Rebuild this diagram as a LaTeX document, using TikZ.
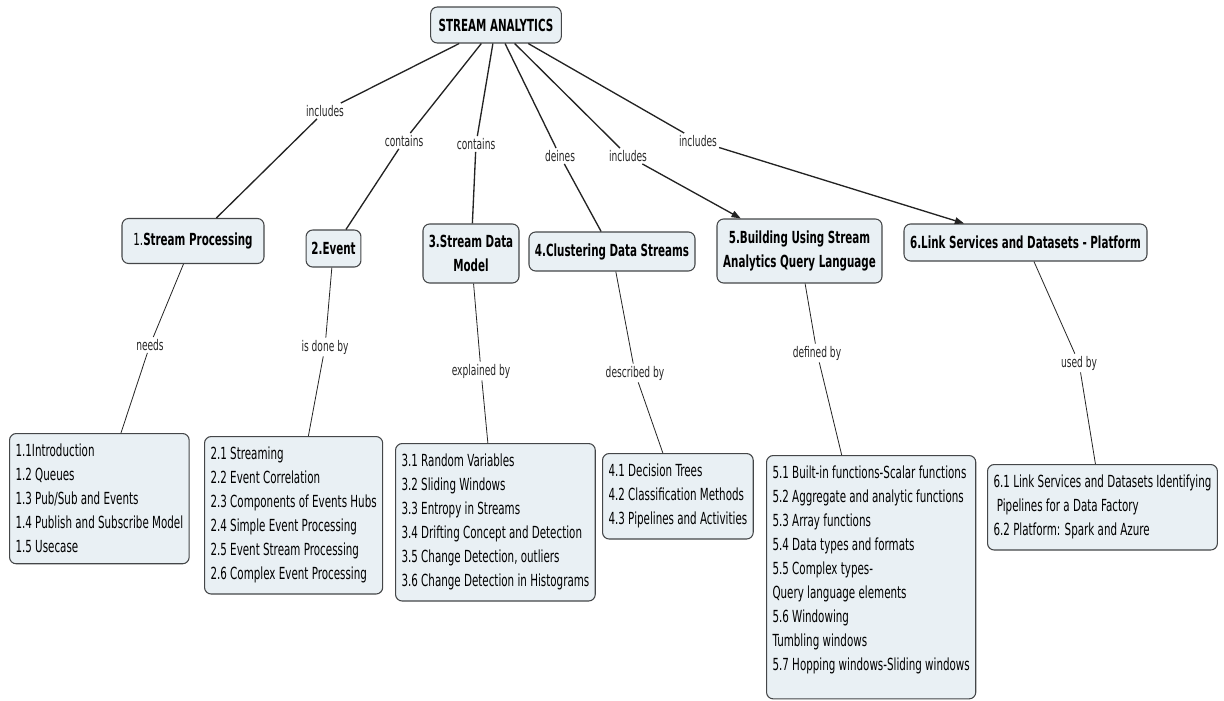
\documentclass[tikz,border=0pt]{standalone}
\usepackage{fontspec}
\setmainfont{DejaVu Sans}[FakeStretch=0.62]
\usepackage{tikz}
\usetikzlibrary{arrows.meta,positioning}
\definecolor{conceptfill}{RGB}{233,240,244}
\definecolor{conceptline}{RGB}{68,70,72}
\definecolor{linkline}{RGB}{35,35,35}

\begin{document}
\begin{tikzpicture}[x=0.75pt, y=-0.75pt,
    concept/.style={rectangle, draw=conceptline, fill=conceptfill, line width=0.8pt, rounded corners=5pt, align=center, inner xsep=4pt, inner ysep=3pt, font=\fontsize{12.5pt}{18pt}\selectfont\bfseries},
    topic/.style={rectangle, draw=conceptline, fill=conceptfill, line width=0.8pt, rounded corners=5pt, align=left, anchor=north west, inner xsep=4.5pt, inner ysep=8pt, font=\fontsize{12.5pt}{18pt}\selectfont},
    phrase/.style={inner sep=1.5pt, font=\fontsize{11pt}{13pt}\selectfont, text=black!85},
    link/.style={draw=linkline, line width=1pt},
    sublink/.style={draw=linkline, line width=0.6pt},
    tip/.style={-{Triangle[length=7pt, width=5pt]}}
]
    \useasboundingbox (0,0) rectangle (1224,700);

    % root and main concepts
    \node[concept, minimum width=98pt, minimum height=27pt] (root) at (496,25) {STREAM ANALYTICS};

    \node[concept, minimum width=106.5pt, minimum height=33.75pt] (sp) at (193,241) {{\mdseries 1.}Stream Processing};
    \node[concept, minimum height=27.75pt] (ev) at (333.5,248.5) {2.Event};
    \node[concept, minimum width=72pt, minimum height=44.25pt] (sdm) at (471,253.5) {3.Stream Data\\Model};
    \node[concept, minimum width=124.5pt, minimum height=29.25pt] (cds) at (612,251.5) {4.Clustering Data Streams};
    \node[concept, minimum width=123.75pt, minimum height=48pt] (bsa) at (799.5,251) {5.Building Using Stream\\Analytics Query Language};
    \node[concept, minimum width=182.25pt, minimum height=27.75pt] (lsd) at (1025.5,242.5) {6.Link Services and Datasets - Platform};

    % linking phrases
    \node[phrase] (inc1) at (325,111) {includes};
    \node[phrase] (con2) at (404,141) {contains};
    \node[phrase] (con3) at (476,144) {contains};
    \node[phrase] (def4) at (560,156) {deines};
    \node[phrase] (inc5) at (628,156) {includes};
    \node[phrase] (inc6) at (698,141) {includes};

    \node[phrase] (needs) at (150,345) {needs};
    \node[phrase] (done) at (325,347) {is done by};
    \node[phrase] (expl) at (481,371) {explained by};
    \node[phrase] (desc) at (635,373) {described by};
    \node[phrase] (defn) at (817,353) {defined by};
    \node[phrase] (used) at (1079,363) {used by};

    % topic lists
    \node[topic] (t1) at (9,433) {1.1Introduction\\1.2 Queues\\1.3 Pub/Sub and Events\\1.4 Publish and Subscribe Model\\1.5 Usecase};
    \node[topic] (t2) at (204,436) {2.1 Streaming\\2.2 Event Correlation\\2.3 Components of Events Hubs\\2.4 Simple Event Processing\\2.5 Event Stream Processing\\2.6 Complex Event Processing};
    \node[topic] (t3) at (395,443) {3.1 Random Variables\\3.2 Sliding Windows\\3.3 Entropy in Streams\\3.4 Drifting Concept and Detection\\3.5 Change Detection, outliers\\3.6 Change Detection in Histograms};
    \node[topic] (t4) at (602,453) {4.1 Decision Trees\\4.2 Classification Methods\\4.3 Pipelines and Activities};
    \node[topic] (t5) at (766,455) {5.1 Built-in functions-Scalar functions\\5.2 Aggregate and analytic functions\\5.3 Array functions\\5.4 Data types and formats\\5.5 Complex types-\\Query language elements\\5.6 Windowing\\Tumbling windows\\5.7 Hopping windows-Sliding windows\\[-5pt]\mbox{}};
    \node[topic] (t6) at (987,464) {6.1 Link Services and Datasets Identifying\\~Pipelines for a Data Factory\\6.2 Platform: Spark and Azure};

    % connectors
    \draw[link] (root) -- (inc1);
    \draw[link] (inc1) -- (sp);
    \draw[link] (root) -- (con2);
    \draw[link] (con2) -- (ev);
    \draw[link] (root) -- (con3);
    \draw[link] (con3) -- (sdm);
    \draw[link] (root) -- (def4);
    \draw[link] (def4) -- (cds);
    \draw[link] (root) -- (inc5);
    \draw[link, tip] (inc5) -- (bsa);
    \draw[link] (root) -- (inc6);
    \draw[link, tip] (inc6) -- (lsd);

    \draw[sublink] (sp) -- (needs);
    \draw[sublink] (needs) -- (t1);
    \draw[sublink] (ev) -- (done);
    \draw[sublink] (done) -- (t2);
    \draw[sublink] (sdm) -- (expl);
    \draw[sublink] (expl) -- (t3);
    \draw[sublink] (cds) -- (desc);
    \draw[sublink] (desc) -- (t4);
    \draw[sublink] (bsa) -- (defn);
    \draw[sublink] (defn) -- (t5);
    \draw[sublink] (lsd) -- (used);
    \draw[sublink] (used) -- (t6);

\end{tikzpicture}
\end{document}
